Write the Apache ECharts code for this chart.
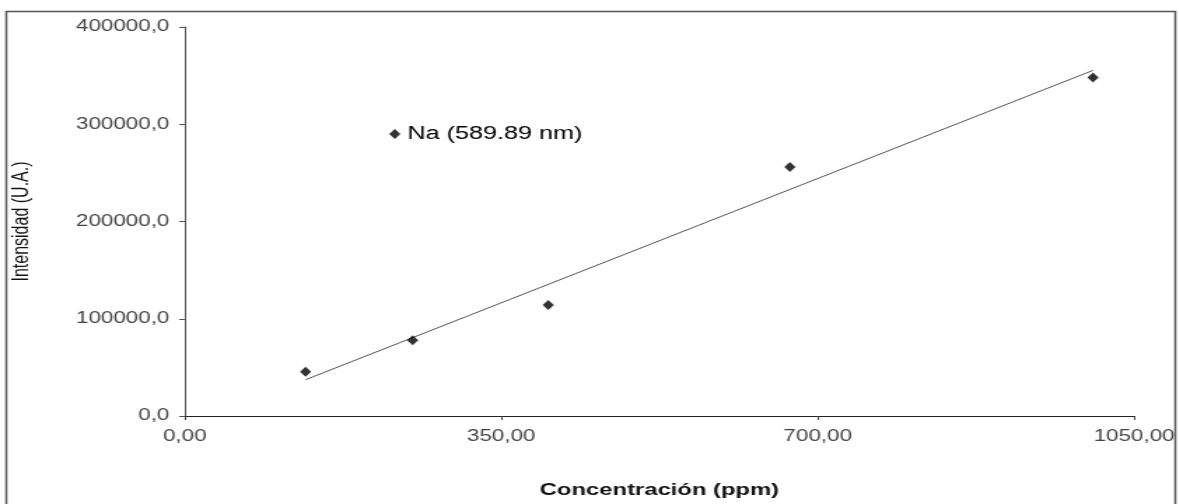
<!DOCTYPE html>
<html>
<head>
<meta charset="utf-8">
<script src="https://cdn.jsdelivr.net/npm/echarts@6/dist/echarts.min.js"></script>
<style>
  html, body { margin: 0; padding: 0; background: #fff; overflow: hidden; }
  /* the source picture is stretched sideways, so draw narrow and stretch the same way */
  #chart { width: 842px; height: 504px; transform: scaleX(1.4); transform-origin: 0 0; }
</style>
</head>
<body>
<div id="chart"></div>
<script>
// Na (589.89 nm) calibration points
const concentration = [133.6, 252.0, 402.0, 669.3, 1004.5]; // ppm
const intensity = [45400, 78000, 114100, 256000, 348100]; // U.A.
const xTicks = [0, 350, 700, 1050];
const yTicks = [0, 100000, 200000, 300000, 400000];
const seriesName = 'Na (589.89 nm)';

const points = concentration.map((x, i) => [x, intensity[i]]);

// least squares line through the points
function linearFit(xs, ys) {
  const n = xs.length;
  const mx = xs.reduce((a, b) => a + b, 0) / n;
  const my = ys.reduce((a, b) => a + b, 0) / n;
  let sxy = 0, sxx = 0;
  for (let i = 0; i < n; i++) {
    sxy += (xs[i] - mx) * (ys[i] - my);
    sxx += (xs[i] - mx) * (xs[i] - mx);
  }
  const slope = sxy / sxx;
  return { slope: slope, intercept: my - slope * mx };
}
const fit = linearFit(concentration, intensity);
const xMin = Math.min(...concentration);
const xMax = Math.max(...concentration);
const trend = [xMin, xMax].map(x => [x, fit.slope * x + fit.intercept]);

const labelFont = "'Liberation Sans', Arial, sans-serif";

const option = {
  animation: false,
  backgroundColor: '#fff',
  grid: {
    left: 128,
    right: 30,
    top: 27,
    bottom: 83,
  },
  legend: {
    data: [{ name: seriesName, icon: 'diamond' }],
    left: 273,
    top: 120,
    itemWidth: 8,
    itemHeight: 10,
    textStyle: {
      fontFamily: labelFont,
      fontSize: 18,
      color: '#000',
    },
  },
  xAxis: {
    type: 'value',
    min: xTicks[0],
    max: xTicks[xTicks.length - 1],
    interval: xTicks[1] - xTicks[0],
    name: 'Concentración (ppm)',
    nameLocation: 'middle',
    nameGap: 66,
    nameTextStyle: {
      fontFamily: labelFont,
      fontSize: 17,
      fontWeight: 'bold',
      color: '#111',
    },
    axisLine: { onZero: false, lineStyle: { color: '#222', width: 1 } },
    axisTick: { show: true, inside: false, length: 4, lineStyle: { color: '#444' } },
    splitLine: { show: false },
    axisLabel: {
      margin: 13,
      fontFamily: labelFont,
      fontSize: 16,
      color: '#444',
      formatter: v => v.toFixed(2).replace('.', ','),
    },
  },
  yAxis: {
    type: 'value',
    min: yTicks[0],
    max: yTicks[yTicks.length - 1],
    interval: yTicks[1] - yTicks[0],
    name: 'Intensidad (U.A.)',
    nameLocation: 'middle',
    nameGap: 108,
    nameTextStyle: {
      fontFamily: labelFont,
      fontSize: 16,
      color: '#111',
    },
    axisLine: { show: true, lineStyle: { color: '#555', width: 1 } },
    axisTick: { show: true, inside: false, length: 4, lineStyle: { color: '#555' } },
    splitLine: { show: false },
    axisLabel: {
      margin: 11,
      fontFamily: labelFont,
      fontSize: 16,
      color: '#444',
      formatter: v => v.toFixed(1).replace('.', ','),
    },
  },
  graphic: [
    {
      type: 'rect',
      shape: { x: 4.5, y: 11.5, width: 835, height: 520 },
      style: { fill: 'none', stroke: '#555', lineWidth: 1.5 },
      silent: true,
    },
  ],
  series: [
    {
      name: 'trend',
      type: 'line',
      data: trend,
      symbol: 'none',
      silent: true,
      lineStyle: { color: '#555', width: 1 },
      z: 1,
    },
    {
      name: seriesName,
      type: 'scatter',
      data: points,
      symbol: 'diamond',
      symbolSize: [8, 10],
      itemStyle: { color: '#000' },
      z: 3,
    },
  ],
};

const chart = echarts.init(document.getElementById('chart'));
chart.setOption(option);
</script>
</body>
</html>
